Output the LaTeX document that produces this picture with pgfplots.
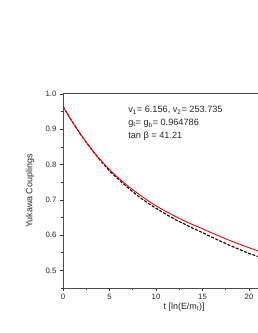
\documentclass[border=0pt]{standalone}
\usepackage{pgfplots}
\pgfplotsset{compat=1.18}
\usepackage{fontspec}
\setmainfont{Liberation Sans}
\begin{document}
\begin{tikzpicture}
\begin{axis}[
  at={(63bp,45bp)}, anchor=south west,
  scale only axis, width=197.2bp, height=194bp,
  xmin=0, xmax=21.2, ymin=0.45, ymax=1.0,
  xtick={0,5,10,15,20}, minor xtick={2.5,7.5,12.5,17.5},
  ytick={0.5,0.6,0.7,0.8,0.9,1.0}, minor ytick={0.45,0.55,0.65,0.75,0.85,0.95},
  yticklabel style={/pgf/number format/.cd,fixed,fixed zerofill,precision=1},
  /pgf/number format/assume math mode=true,
  tick align=outside, tick pos=left,
  major tick length=3bp, minor tick length=2bp,
  tick style={black!80, line width=0.6pt},
  axis line style={black!70, line width=1pt},
  ticklabel style={font=\fontsize{7.8}{9}\selectfont, text=black!85},
  xlabel={t [ln(E/m\textsubscript{t})]},
  ylabel={Yukawa Couplings},
  label style={font=\fontsize{9}{10}\selectfont, text=black!85},
  x label style={at={(axis description cs:0.614,0)}, anchor=north, yshift=-11bp},
  y label style={at={([xshift=-33bp]axis description cs:0,0.5)}, anchor=center},
  clip=true,
]
\addplot[black, dashed, line width=1.1pt, dash pattern=on 3pt off 1.5pt] coordinates {
(0,0.965) (1,0.921) (2,0.881) (3,0.845) (4,0.812) (5,0.782) (6,0.757) (7,0.734) (8,0.712) (9,0.693) (10,0.676) (11,0.660) (12,0.645) (13,0.632) (14,0.619) (15,0.607) (16,0.594) (17,0.582) (18,0.570) (19,0.559) (20,0.548) (21,0.539) (21.2,0.537)
};
\addplot[red, line width=0.9pt, smooth] coordinates {
(0,0.965) (1,0.921) (2,0.882) (3,0.846) (4,0.814) (5,0.786) (6,0.761) (7,0.739) (8,0.719) (9,0.700) (10,0.683) (11,0.668) (12,0.654) (13,0.641) (14,0.629) (15,0.618) (16,0.606) (17,0.595) (18,0.584) (19,0.574) (20,0.564) (21,0.555) (21.2,0.553)
};
\node[anchor=north west, align=left, font=\fontsize{9.2}{12.8}\selectfont, text=black!85, inner sep=0pt] at (axis cs:7.0,0.965)
{v\textsubscript{1}= 6.156, v\textsubscript{2}= 253.735\\ g\textsubscript{t}= g\textsubscript{b}= 0.964786\\ tan β = 41.21};
\end{axis}
\pgfresetboundingbox
\useasboundingbox (0,0) rectangle (258bp,333bp);
\end{tikzpicture}
\end{document}
